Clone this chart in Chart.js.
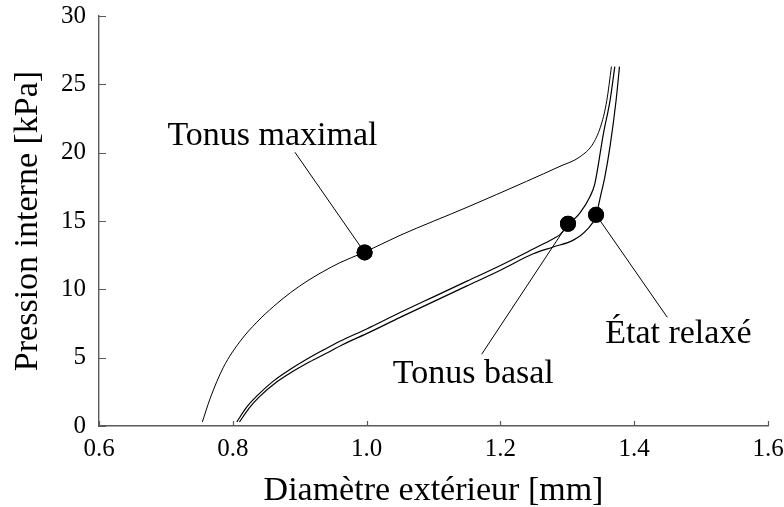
<!DOCTYPE html>
<html>
<head>
<meta charset="utf-8">
<script src="https://cdn.jsdelivr.net/npm/chart.js@4/dist/chart.umd.min.js"></script>
<style>
  html, body { margin: 0; padding: 0; background: #fff; }
  canvas { display: block; }
</style>
</head>
<body>
<canvas id="c" width="784" height="507"></canvas>
<script>
// Pressure–diameter curves (outer diameter in mm, internal pressure in kPa)
const maxDiam   = [0.7545, 0.766, 0.786, 0.811, 0.836, 0.861, 0.886, 0.911, 0.935, 0.960, 0.996, 1.050, 1.150, 1.239, 1.289, 1.319, 1.339, 1.351, 1.359, 1.366];
const maxPress  = [0.3,    2.0,   4.3,   6.2,   7.6,   8.75,  9.75,  10.6,  11.3,  11.95, 12.7,  13.95, 16.0,  17.9,  19.0,  19.7,  20.7,  22.1,  23.8,  26.3];

const basalDiam  = [0.806, 0.821, 0.836, 0.861, 0.886, 0.911, 0.935, 0.960, 1.000, 1.050, 1.100, 1.150, 1.200, 1.249, 1.279, 1.289, 1.301, 1.319, 1.334, 1.341, 1.354, 1.364, 1.371];
const basalPress = [0.3,   1.4,   2.2,   3.3,   4.15,  4.9,   5.55,  6.2,   7.1,   8.3,   9.45,  10.6,  11.75, 12.95, 13.7,  14.0,  14.7,  15.6,  16.8,  17.7,  21.4,  23.85, 26.3];

const relaxDiam  = [0.810, 0.825, 0.840, 0.865, 0.890, 0.915, 0.939, 0.964, 1.004, 1.050, 1.100, 1.150, 1.200, 1.249, 1.279, 1.309, 1.329, 1.343, 1.350, 1.356, 1.364, 1.373, 1.378];
const relaxPress = [0.3,   1.35,  2.15,  3.2,   4.0,   4.7,   5.3,   5.95,  6.85,  7.95,  9.1,   10.25, 11.4,  12.6,  13.1,  13.6,  14.35, 15.4,  16.9,  18.2,  20.5,  23.85, 26.3];

// Highlighted operating points
const stateNames  = ['Tonus maximal', 'Tonus basal', 'État relaxé'];
const stateDiam   = [0.997, 1.301, 1.343];
const statePress  = [12.7, 14.8, 15.45];

// Axis ticks
const xTicks = [0.6, 0.8, 1.0, 1.2, 1.4, 1.6];
const yTicks = [0, 5, 10, 15, 20, 25, 30];

const pts = (xs, ys) => xs.map((x, i) => ({ x: x, y: ys[i] }));

const SERIF = '"Liberation Serif", "Times New Roman", serif';
const AXIS_GREY = '#5a5a5a';

Chart.defaults.font.family = SERIF;
Chart.defaults.color = '#000';

// Label placement for each highlighted point (data units)
const callouts = [
  { text: stateNames[0], tx: 0.8593, ty: 20.56, lx: 0.8929, ly: 20.03, p: 0 },
  { text: stateNames[1], tx: 1.1595, ty: 3.15,  lx: 1.172,  ly: 5.25,  p: 1 },
  { text: stateNames[2], tx: 1.466,  ty: 6.07,  lx: 1.4495, ly: 7.95,  p: 2 }
];

// Short tick marks pointing into the plotting area
const innerTicks = {
  id: 'innerTicks',
  afterDatasetsDraw(chart) {
    const { ctx, chartArea: a, scales: { x, y } } = chart;
    ctx.save();
    ctx.strokeStyle = AXIS_GREY;
    ctx.lineWidth = 1.2;
    ctx.beginPath();
    xTicks.forEach(v => {
      const px = Math.round(x.getPixelForValue(v)) + 0.5;
      ctx.moveTo(px, a.bottom);
      ctx.lineTo(px, a.bottom - 5);
    });
    yTicks.forEach(v => {
      const py = Math.round(y.getPixelForValue(v)) + 0.5;
      ctx.moveTo(a.left, py);
      ctx.lineTo(a.left + 7, py);
    });
    ctx.stroke();
    ctx.restore();
  }
};

// Leader lines and text naming each state
const calloutPlugin = {
  id: 'callouts',
  afterDatasetsDraw(chart) {
    const { ctx, scales: { x, y } } = chart;
    ctx.save();
    ctx.strokeStyle = '#000';
    ctx.lineWidth = 1;
    callouts.forEach(c => {
      ctx.beginPath();
      ctx.moveTo(x.getPixelForValue(c.lx), y.getPixelForValue(c.ly));
      ctx.lineTo(x.getPixelForValue(stateDiam[c.p]), y.getPixelForValue(statePress[c.p]));
      ctx.stroke();
    });
    // markers sit on top of the leader lines
    ctx.fillStyle = '#000';
    stateDiam.forEach((d, i) => {
      ctx.beginPath();
      ctx.arc(x.getPixelForValue(d), y.getPixelForValue(statePress[i]), 8, 0, Math.PI * 2);
      ctx.fill();
    });
    ctx.font = '34px ' + SERIF;
    ctx.textAlign = 'center';
    ctx.textBaseline = 'alphabetic';
    callouts.forEach(c => {
      ctx.fillText(c.text, x.getPixelForValue(c.tx), y.getPixelForValue(c.ty));
    });
    ctx.restore();
  }
};

const curveStyle = {
  showLine: true,
  fill: false,
  pointRadius: 0,
  borderColor: '#000',
  cubicInterpolationMode: 'monotone'
};

new Chart(document.getElementById('c'), {
  type: 'scatter',
  data: {
    datasets: [
      Object.assign({ label: 'Tonus maximal', data: pts(maxDiam, maxPress), borderWidth: 1 }, curveStyle),
      Object.assign({ label: 'Tonus basal', data: pts(basalDiam, basalPress), borderWidth: 1.2 }, curveStyle),
      Object.assign({ label: 'État relaxé', data: pts(relaxDiam, relaxPress), borderWidth: 1.2 }, curveStyle),
      {
        label: 'États',
        data: pts(stateDiam, statePress),
        showLine: false,
        pointRadius: 8,
        pointBackgroundColor: '#000',
        pointBorderWidth: 0
      }
    ]
  },
  options: {
    responsive: false,
    animation: false,
    layout: { autoPadding: false, padding: { top: 16, right: 16, left: 0, bottom: 0 } },
    plugins: { legend: { display: false }, tooltip: { enabled: false } },
    scales: {
      x: {
        type: 'linear',
        min: 0.6, max: 1.6,
        afterBuildTicks: s => { s.ticks = xTicks.map(v => ({ value: v })); },
        afterFit: s => {
          s.height = 81;
          // the end labels may overhang the plot edges
          s.paddingLeft = 0; s.paddingRight = 0;
        },
        grid: { display: false, drawTicks: false },
        border: { display: true, color: AXIS_GREY, width: 1.4 },
        ticks: {
          padding: 8,
          color: '#000',
          maxRotation: 0,
          font: { family: SERIF, size: 25 },
          callback: v => Number(v).toFixed(1)
        },
        title: {
          display: true,
          text: 'Diamètre extérieur [mm]',
          color: '#000',
          font: { family: SERIF, size: 34, lineHeight: 0.85 },
          padding: { top: 0, bottom: 1 }
        }
      },
      y: {
        type: 'linear',
        min: 0, max: 30,
        afterBuildTicks: s => { s.ticks = yTicks.map(v => ({ value: v })); },
        afterFit: s => {
          s.width = 99;
          s.paddingTop = 0; s.paddingBottom = 0;
        },
        grid: { display: false, drawTicks: false },
        border: { display: true, color: AXIS_GREY, width: 1.4 },
        ticks: {
          padding: 13,
          color: '#000',
          font: { family: SERIF, size: 25 },
          callback: v => String(v)
        },
        title: {
          display: true,
          text: 'Pression interne [kPa]',
          color: '#000',
          font: { family: SERIF, size: 34 },
          padding: { top: 8, bottom: 0 }
        }
      }
    }
  },
  plugins: [innerTicks, calloutPlugin]
});
</script>
</body>
</html>
